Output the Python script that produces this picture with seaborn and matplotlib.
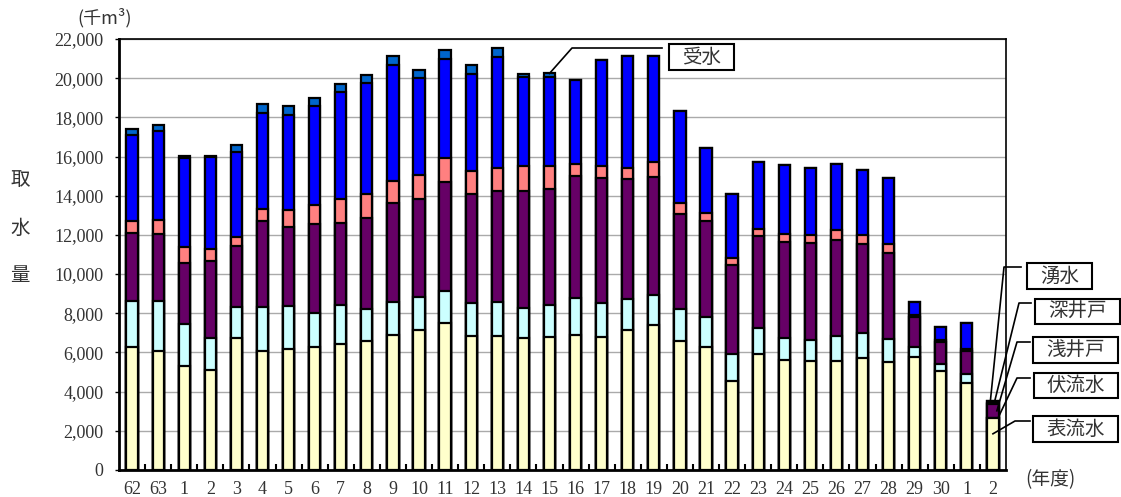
import seaborn as sns
import pandas as pd
import numpy as np
import matplotlib.pyplot as plt
from matplotlib.patches import Rectangle
from matplotlib.lines import Line2D

# 年度 (昭和62, 63, 平成1..30, 令和1, 2)
years = ['62', '63'] + [str(i) for i in range(1, 31)] + ['1', '2']

# 取水量 (千m3), 下から順に
hyoryusui = [6290, 6090, 5300, 5120, 6720, 6090, 6170, 6260, 6430, 6560,
             6870, 7170, 7480, 6830, 6830, 6720, 6770, 6900, 6800, 7170,
             7380, 6600, 6260, 4560, 5900, 5630, 5540, 5540, 5700, 5510,
             5750, 5050, 4450, 2640]
fukuryusui = [2350, 2550, 2140, 1620, 1580, 2240, 2180, 1770, 1990, 1680,
              1730, 1680, 1670, 1700, 1720, 1530, 1630, 1870, 1720, 1580,
              1560, 1630, 1530, 1380, 1330, 1090, 1110, 1280, 1280, 1190,
              540, 360, 430, 30]
asaido = [3470, 3400, 3130, 3910, 3150, 4390, 4060, 4510, 4180, 4640,
          5030, 4960, 5560, 5580, 5680, 6000, 5920, 6240, 6380, 6120,
          6040, 4850, 4900, 4540, 4690, 4930, 4930, 4930, 4570, 4400,
          1500, 1110, 1210, 700]
fukaido = [610, 710, 830, 630, 430, 610, 870, 970, 1210, 1190,
           1120, 1240, 1210, 1160, 1210, 1280, 1190, 630, 610, 540,
           750, 540, 440, 340, 370, 390, 430, 490, 440, 460,
           140, 100, 90, 70]
yusui = [4400, 4560, 4540, 4680, 4370, 4900, 4850, 5050, 5460, 5660,
         5930, 4960, 5080, 4960, 5640, 4510, 4560, 4270, 5440, 5730,
         5390, 4690, 3320, 3250, 3450, 3520, 3380, 3400, 3300, 3350,
         630, 660, 1310, 70]
jusui = [290, 290, 70, 70, 340, 440, 430, 440, 440, 440,
         440, 410, 440, 460, 440, 150, 170, 0, 0, 0,
         0, 0, 0, 0, 0, 0, 0, 0, 0, 0,
         0, 0, 0, 0]

names = ['表流水', '伏流水', '浅井戸', '深井戸', '湧水', '受水']
colors = ['#FFFFCC', '#CCFFFF', '#660066', '#FF8080', '#0000FF', '#0066CC']
layers = [hyoryusui, fukuryusui, asaido, fukaido, yusui, jusui]

n = len(years)
df = pd.DataFrame({'pos': np.arange(n)})
cum = np.zeros(n)
for nm, vals in zip(names, layers):
    cum = cum + np.array(vals)
    df[nm] = cum

W, H = 1121, 497
fig = plt.figure(figsize=(W / 100, H / 100), dpi=100)
ax = fig.add_axes([119 / W, 1 - 470 / H, (1006 - 119) / W, (470 - 39) / H])

# draw from the top layer down so each stack shows through
for nm, col in reversed(list(zip(names, colors))):
    sns.barplot(data=df, x='pos', y=nm, color=col, saturation=1, width=0.43,
                edgecolor='black', linewidth=1.6, errorbar=None, ax=ax, zorder=3)

ax.set_xlim(-0.5, n - 0.5)
ax.set_ylim(0, 22000)
ax.set_yticks(np.arange(0, 22001, 2000))
ax.set_yticklabels([f'{v:,}' for v in range(0, 22001, 2000)],
                   fontsize=13, family='Liberation Serif', color='#333333')
ax.set_xticks(np.arange(n))
ax.set_xticklabels(years, fontsize=13, family='Liberation Serif', color='#333333')
ax.set_xticks(np.arange(n - 1) + 0.5, minor=True)
ax.tick_params(axis='x', which='major', length=0, pad=8)
ax.tick_params(axis='x', which='minor', direction='in', length=4, width=1.5)
ax.tick_params(axis='y', length=3, width=1, pad=8)
ax.set_xlabel('')
ax.set_ylabel('')
ax.grid(axis='y', color='#AAAAAA', lw=1, zorder=0)
ax.set_axisbelow(True)
for s in ['left', 'bottom']:
    ax.spines[s].set_linewidth(2)
for s in ['top', 'right']:
    ax.spines[s].set_linewidth(1.2)

jp = ['Noto Sans CJK JP', 'DejaVu Sans']
fig.text(105 / W, 1 - 18 / H, '(千m³)', family=jp, fontsize=13,
         ha='center', va='center', color='#333333')
for ch, yy in zip('取水量', [180, 228, 275]):
    fig.text(20 / W, 1 - yy / H, ch, family=jp, fontsize=14,
             ha='center', va='center', color='#333333')
fig.text(1050 / W, 1 - 480 / H, '(年度)', family=jp, fontsize=13.5,
         ha='center', va='center', color='#333333')


def callout(label, idx, val, kink, end, box):
    # anchor on the bar (data), then kink and end in figure pixels
    x0, y0 = ax.transData.transform((idx, val))
    xs = [x0, kink[0], end[0]]
    ys = [y0, H - kink[1], H - end[1]]
    fig.add_artist(Line2D(xs, ys, transform=None, color='black', lw=1.2))
    bx0, by0, bx1, by1 = box
    fig.add_artist(Rectangle((bx0 / W, 1 - by1 / H), (bx1 - bx0) / W, (by1 - by0) / H,
                             transform=fig.transFigure, fill=False,
                             edgecolor='black', lw=1.5))
    fig.text((bx0 + bx1) / 2 / W, 1 - (by0 + by1) / 2 / H, label, family=jp,
             fontsize=14, ha='center', va='center', color='#333333')


i15 = years.index('15')
callout('受水', i15, df['受水'][i15], (572, 48), (662, 48), (669, 44, 734, 70))
last = n - 1
callout('湧水', last - 0.1, df['受水'][last], (1004, 267), (1021, 267), (1027, 263, 1092, 289))
callout('深井戸', last + 0.05, df['深井戸'][last] - 20, (1019, 303), (1031, 303), (1035, 299, 1120, 324))
callout('浅井戸', last + 0.15, (df['伏流水'][last] + df['浅井戸'][last]) / 2, (1017, 342), (1030, 342), (1033, 337, 1118, 363))
callout('伏流水', last + 0.2, df['伏流水'][last], (1017, 378), (1030, 378), (1034, 373, 1118, 398))
callout('表流水', last, df['表流水'][last] * 0.7, (1015, 421), (1030, 421), (1033, 416, 1118, 442))

fig.savefig('out.png', dpi=100)
